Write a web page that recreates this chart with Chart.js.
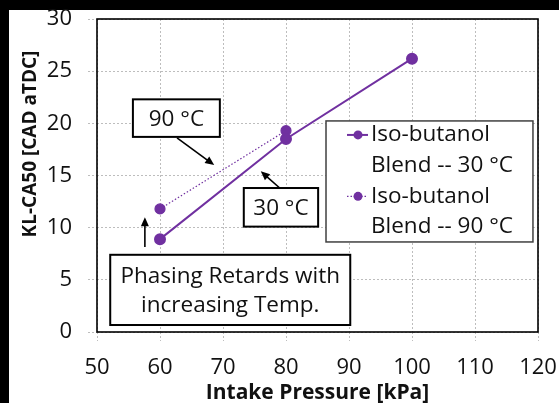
<!DOCTYPE html>
<html>
<head>
<meta charset="utf-8">
<script src="https://cdn.jsdelivr.net/npm/chart.js@4/dist/chart.umd.min.js"></script>
<style>
  html, body { margin: 0; padding: 0; background: #fff; }
  #wrap { width: 559px; height: 403px; }
</style>
</head>
<body>
<div id="wrap"><canvas id="c" width="559" height="403"></canvas></div>
<script>
// KL-CA50 combustion phasing vs intake pressure, iso-butanol blend at two intake temperatures
const pressure30 = [60, 80, 100];
const ca50Temp30 = [8.9, 18.5, 26.2];
const pressure90 = [60, 80];
const ca50Temp90 = [11.8, 19.3];
const xTickValues = [50, 60, 70, 80, 90, 100, 110, 120];
const yTickValues = [0, 5, 10, 15, 20, 25, 30];
const seriesNames = [['Iso-butanol', 'Blend -- 30 °C'], ['Iso-butanol', 'Blend -- 90 °C']];
const xTitle = 'Intake Pressure [kPa]';
const yTitle = 'KL-CA50 [CAD aTDC]';

const PURPLE = '#7030A0';
const FONT = '"Open Sans", sans-serif';
const INK = '#111';
const TEXT_SIZE = 22.5;

// Callout boxes (data units: x1, yTop, x2, yBottom) with their arrows (from x,y to x,y)
const callouts = [
  { lines: ['90 °C'], box: [55.7, 22.3, 69.5, 18.7], arrow: [62.7, 18.6, 68.6, 16.0] },
  { lines: ['30 °C'], box: [73.3, 13.8, 85.1, 10.1], arrow: [79.0, 13.8, 76.0, 15.4] },
  { lines: ['Phasing Retards with', 'increasing Temp.'], box: [52.1, 7.4, 90.2, 0.67], arrow: [57.6, 8.15, 57.6, 11.0] }
];
// Legend frame in data units
const legendBox = [86.35, 20.23, 119.2, 8.63];

function drawArrow(ctx, x1, y1, x2, y2) {
  const ang = Math.atan2(y2 - y1, x2 - x1);
  const head = 9, half = 4;
  ctx.save();
  ctx.strokeStyle = '#000';
  ctx.fillStyle = '#000';
  ctx.lineWidth = 1.6;
  ctx.beginPath();
  ctx.moveTo(x1, y1);
  ctx.lineTo(x2 - Math.cos(ang) * head * 0.8, y2 - Math.sin(ang) * head * 0.8);
  ctx.stroke();
  ctx.translate(x2, y2);
  ctx.rotate(ang);
  ctx.beginPath();
  ctx.moveTo(0, 0);
  ctx.lineTo(-head, -half);
  ctx.lineTo(-head, half);
  ctx.closePath();
  ctx.fill();
  ctx.restore();
}

const decorPlugin = {
  id: 'decor',
  beforeDraw(chart) {
    const { ctx, width, height } = chart;
    ctx.save();
    ctx.fillStyle = '#000';
    ctx.fillRect(0, 0, width, height);
    ctx.fillStyle = '#fff';
    ctx.fillRect(9, 10, width - 9, height - 10);
    ctx.fillRect(300, 400, width - 300, 3);
    ctx.restore();
  },
  afterDatasetsDraw(chart) {
    const { ctx, chartArea: a, scales: { x, y } } = chart;
    ctx.save();
    // plot frame
    ctx.strokeStyle = '#000';
    ctx.lineWidth = 1.6;
    ctx.strokeRect(a.left, a.top, a.right - a.left, a.bottom - a.top);

    // callouts
    ctx.font = TEXT_SIZE + 'px ' + FONT;
    ctx.textAlign = 'center';
    ctx.textBaseline = 'middle';
    callouts.forEach(c => {
      const bx1 = x.getPixelForValue(c.box[0]);
      const by1 = y.getPixelForValue(c.box[1]);
      const bx2 = x.getPixelForValue(c.box[2]);
      const by2 = y.getPixelForValue(c.box[3]);
      ctx.fillStyle = '#fff';
      ctx.fillRect(bx1, by1, bx2 - bx1, by2 - by1);
      ctx.strokeStyle = '#000';
      ctx.lineWidth = 2;
      ctx.strokeRect(bx1, by1, bx2 - bx1, by2 - by1);
      ctx.fillStyle = INK;
      const lh = 29;
      const cy = (by1 + by2) / 2 - (c.lines.length - 1) * lh / 2 + 1;
      c.lines.forEach((t, i) => ctx.fillText(t, (bx1 + bx2) / 2, cy + i * lh));
      drawArrow(ctx,
        x.getPixelForValue(c.arrow[0]), y.getPixelForValue(c.arrow[1]),
        x.getPixelForValue(c.arrow[2]), y.getPixelForValue(c.arrow[3]));
    });

    // legend
    const lx1 = x.getPixelForValue(legendBox[0]);
    const ly1 = y.getPixelForValue(legendBox[1]);
    const lx2 = x.getPixelForValue(legendBox[2]);
    const ly2 = y.getPixelForValue(legendBox[3]);
    ctx.fillStyle = '#fff';
    ctx.fillRect(lx1, ly1, lx2 - lx1, ly2 - ly1);
    ctx.strokeStyle = '#404040';
    ctx.lineWidth = 1.5;
    ctx.strokeRect(lx1, ly1, lx2 - lx1, ly2 - ly1);
    ctx.textAlign = 'left';
    const rowH = 30.7;
    chart.data.datasets.forEach((ds, i) => {
      const names = seriesNames[i];
      const rowY = ly1 + 14 + i * 2 * rowH;
      ctx.save();
      ctx.strokeStyle = ds.borderColor;
      ctx.lineWidth = ds.borderWidth;
      ctx.setLineDash(ds.borderDash || []);
      ctx.beginPath();
      ctx.moveTo(lx1 + 21, rowY);
      ctx.lineTo(lx1 + 42, rowY);
      ctx.stroke();
      ctx.setLineDash([]);
      ctx.fillStyle = ds.pointBackgroundColor;
      ctx.beginPath();
      ctx.arc(lx1 + 32, rowY, 4.5, 0, Math.PI * 2);
      ctx.fill();
      ctx.restore();
      ctx.fillStyle = INK;
      names.forEach((t, k) => ctx.fillText(t, lx1 + 45, rowY + k * rowH));
    });

    // vertical axis title
    ctx.save();
    ctx.translate(31, 144);
    ctx.rotate(-Math.PI / 2);
    ctx.font = 'bold 19px ' + FONT;
    ctx.textAlign = 'center';
    ctx.textBaseline = 'middle';
    ctx.fillStyle = INK;
    ctx.fillText(yTitle, 0, 0);
    ctx.restore();

    ctx.restore();
  }
};

function build() {
  const gridCfg = {
    color: '#bdbdbd',
    lineWidth: 1,
    tickLength: 9,
    tickBorderDash: [2, 2],
    tickColor: '#bdbdbd'
  };
  new Chart(document.getElementById('c'), {
    type: 'scatter',
    data: {
      datasets: [
        {
          label: seriesNames[0].join(' '),
          data: pressure30.map((p, i) => ({ x: p, y: ca50Temp30[i] })),
          showLine: true,
          borderColor: PURPLE,
          borderWidth: 2,
          pointBackgroundColor: PURPLE,
          pointBorderColor: PURPLE,
          pointRadius: 5,
          borderDash: []
        },
        {
          label: seriesNames[1].join(' '),
          data: pressure90.map((p, i) => ({ x: p, y: ca50Temp90[i] })),
          showLine: true,
          borderColor: PURPLE,
          borderWidth: 1.2,
          borderDash: [1.5, 2],
          pointBackgroundColor: PURPLE,
          pointBorderColor: PURPLE,
          pointRadius: 5
        }
      ]
    },
    options: {
      responsive: false,
      animation: false,
      devicePixelRatio: 1,
      layout: { autoPadding: false, padding: { top: 19, right: 21, left: 0, bottom: 0 } },
      plugins: { legend: { display: false }, tooltip: { enabled: false } },
      scales: {
        x: {
          type: 'linear',
          min: 50, max: 120,
          afterBuildTicks: s => { s.ticks = xTickValues.map(v => ({ value: v })); },
          afterFit: s => { s.height = 71; s.paddingLeft = 0; s.paddingRight = 0; },
          grid: gridCfg,
          border: { display: false, dash: [2, 2] },
          ticks: { font: { family: FONT, size: 22 }, color: INK, padding: 14 },
          title: { display: true, text: xTitle, font: { family: FONT, size: 21, weight: 'bold' }, color: INK, padding: { top: 0, bottom: -3 } }
        },
        y: {
          type: 'linear',
          min: 0, max: 30,
          afterBuildTicks: s => { s.ticks = yTickValues.map(v => ({ value: v })); },
          afterFit: s => { s.width = 97; s.paddingTop = 0; s.paddingBottom = 0; },
          grid: gridCfg,
          border: { display: false, dash: [2, 2] },
          ticks: { font: { family: FONT, size: 22 }, color: INK, padding: 16 }
        }
      }
    },
    plugins: [decorPlugin]
  });
}

Promise.all([
  document.fonts.load('22px "Open Sans"'),
  document.fonts.load('bold 21px "Open Sans"')
]).then(build, build);
</script>
</body>
</html>
